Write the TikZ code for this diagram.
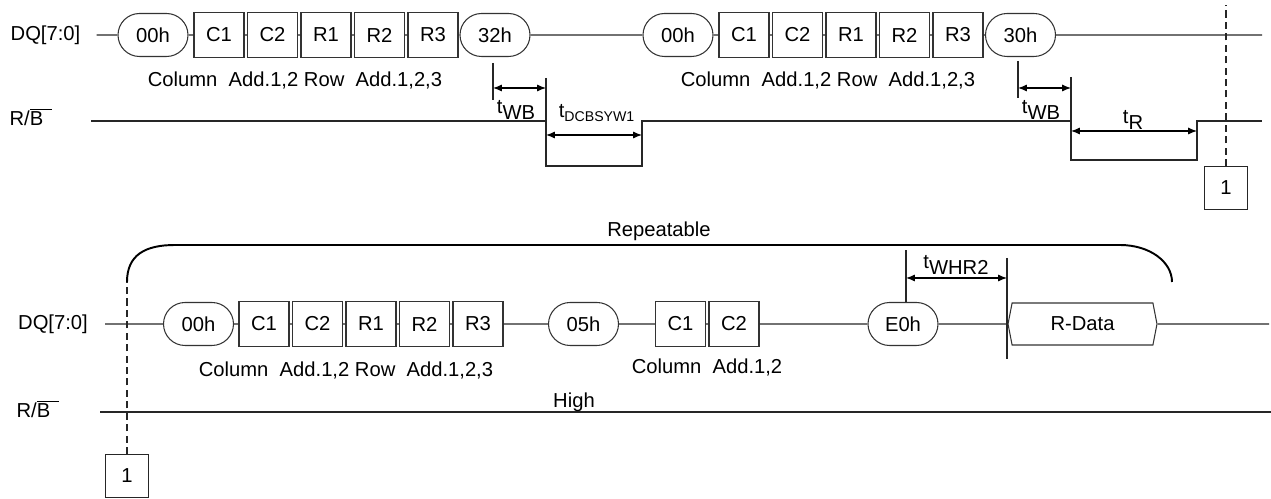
\documentclass[tikz,border=0pt]{standalone}
\usepackage{fontspec}
\setmainfont{Liberation Sans}
\usetikzlibrary{arrows.meta,shapes.misc,shapes.symbols}
\tikzset{
  cmd/.style={draw=black!80,rounded rectangle,minimum width=1.4cm,minimum height=0.86cm,inner sep=0pt,line width=0.6pt},
  adr/.style={draw=black!80,rectangle,minimum width=1cm,minimum height=0.9cm,inner sep=0pt,line width=0.6pt},
  rdat/.style={draw=black!80,signal,signal to=west and east,signal pointer angle=158,minimum width=2.98cm,minimum height=0.84cm,inner sep=0pt,line width=0.6pt},
  sig/.style={draw=black!85,line width=0.6pt},
  tdim/.style={{Latex[length=5pt,width=4pt]}-{Latex[length=5pt,width=4pt]},line width=0.7pt},
  refbox/.style={draw=black!85,minimum size=0.86cm,inner sep=0pt,line width=0.6pt},
  brk/.style={line width=1.1pt},
  dsh/.style={draw=black!85,line width=0.6pt,dash pattern=on 4pt off 2.5pt},
}
\newcommand{\rbname}{R/$\overline{\mbox{B\hspace{0.45em}}}$}
\begin{document}
\begin{tikzpicture}[x=0.02cm,y=-0.02cm,font=\fontsize{11.5}{13}\selectfont]
  \useasboundingbox (0,0) rectangle (1271,499);
  % --- top: 00h-addr-32h / 00h-addr-30h
  \node (dqA) at (45.5,35) {DQ[7:0]};
  \node[cmd] (oA) at (153,35) {00h};
  \foreach \n/\x in {C1/219,C2/272.5,R1/326,R2/379.5,R3/433}
    \node[adr] (a\n) at (\x,35) {\n};
  \node[cmd] (oB) at (495,35) {32h};
  \node[cmd] (oC) at (678,35) {00h};
  \foreach \n/\x in {C1/744,C2/797.5,R1/851,R2/904.5,R3/958}
    \node[adr] (b\n) at (\x,35) {\n};
  \node[cmd] (oD) at (1020.5,35) {30h};
  \coordinate (endA) at (1262,35);
  \draw[sig] ([xshift=0.2cm]dqA.east) -- (oA) -- (aC1) -- (aC2) -- (aR1) -- (aR2) -- (aR3) -- (oB) -- (oC)
    -- (bC1) -- (bC2) -- (bR1) -- (bR2) -- (bR3) -- (oD) -- (endA);
  \node at (295,80) {Column\ \ Add.1,2 Row\ \ Add.1,2,3};
  \node at (828,80) {Column\ \ Add.1,2 Row\ \ Add.1,2,3};
  % busy pulses
  \node (rbA) at (31,117) {\rbname};
  \draw[sig] (91,121) -- (546,121) -- (546,166) -- (642,166) -- (642,121) -- (1071,121)
    -- (1071,160) -- (1197,160) -- (1197,121) -- (1262,121);
  \draw[sig] (493,63) -- (493,100);
  \draw[sig] (546,78) -- (546,121);
  \draw[tdim] (493,88) -- (546,88);
  \node at (516,110) {t\raisebox{-0.55ex}{WB}};
  \draw[tdim] (546,135) -- (642,135);
  \node at (597,113) {t\textsubscript{DCBSYW1}};
  \draw[sig] (1018,61) -- (1018,98);
  \draw[sig] (1071,77) -- (1071,121);
  \draw[tdim] (1018,88) -- (1071,88);
  \node at (1041,110) {t\raisebox{-0.55ex}{WB}};
  \draw[tdim] (1071,131) -- (1197,131);
  \node at (1133,120) {t\raisebox{-0.55ex}{R}};
  \node[refbox] (oneA) at (1226,188) {1};
  \coordinate (dashT) at (1226,5);
  \draw[dsh] (oneA.north) -- (dashT);
  % --- bottom: repeatable read
  \node at (659,231) {Repeatable};
  \coordinate (brL) at (127,282);
  \coordinate (brR) at (1172,282);
  \draw[brk] (brL) .. controls (127,255) and (145,245) .. (175,245) -- (1120,245)
    .. controls (1150,245) and (1172,262) .. (brR);
  \node[refbox] (oneB) at (127,476) {1};
  \draw[dsh] (oneB.north) -- (brL);
  \node (dqB) at (53,324) {DQ[7:0]};
  \node[cmd] (oE) at (198.5,324) {00h};
  \foreach \n/\x in {C1/264,C2/317.5,R1/371,R2/424.5,R3/478}
    \node[adr] (c\n) at (\x,324) {\n};
  \node[cmd] (oF) at (583.5,324) {05h};
  \node[adr] (dC1) at (680.5,324) {C1};
  \node[adr] (dC2) at (734,324) {C2};
  \node[cmd] (oG) at (903,324) {E0h};
  \node[rdat] (rdata) at (1082.5,324) {R-Data};
  \coordinate (endB) at (1269,324);
  \draw[sig] ([xshift=0.22cm]dqB.east) -- (oE) -- (cC1) -- (cC2) -- (cR1) -- (cR2) -- (cR3) -- (oF)
    -- (dC1) -- (dC2) -- (oG) -- (rdata) -- (endB);
  \node at (346,370) {Column\ \ Add.1,2 Row\ \ Add.1,2,3};
  \node at (707,367) {Column\ \ Add.1,2};
  \draw[sig] ([xshift=0.06cm]oG.north) -- ++(0,-52);
  \draw[sig] (1007,258) -- (1007,359);
  \draw[tdim] (906,278) -- (1007,278);
  \node at (956,265) {t\raisebox{-0.55ex}{WHR2}};
  \node (rbB) at (38,409) {\rbname};
  \draw[sig] (100,412) -- (1271,412);
  \node at (574,402) {High};
\end{tikzpicture}
\end{document}
